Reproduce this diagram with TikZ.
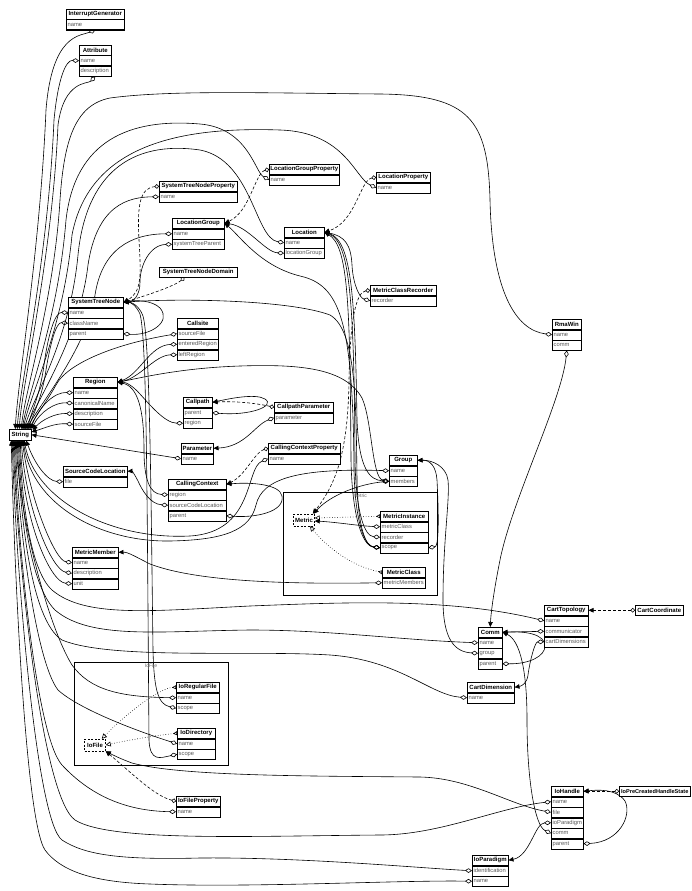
\documentclass[tikz,border=0pt]{standalone}
\usepackage{fontspec}
\setmainfont{Liberation Sans}
\usetikzlibrary{arrows.meta}
\pgfdeclarelayer{bg}
\pgfsetlayers{bg,main}
\newcommand\umlcls[5]{%
  \node[hdr, minimum width=#3, anchor=north west] (#1) at (#2) {#4};
  \xdef\umlprev{#1}%
  \foreach \k/\l in {#5}{%
    \node[rowbox, minimum width=#3, anchor=north west] (#1-\k) at (\umlprev.south west) {};
    \node[rowtxt] (#1-\k-t) at ([xshift=1.5pt]#1-\k.west) {\l};
    \xdef\umlprev{#1-\k}%
  }%
  \draw[boxline] (#1.north west) rectangle (\umlprev.south east);
}
\newcommand\umlhdr[4]{%
  \node[hdr, minimum width=#3, anchor=north west] (#1) at (#2) {#4};
  \draw[boxline] (#1.north west) rectangle (#1.south east);
}
\begin{document}
\begin{tikzpicture}[x=1pt,y=-1pt,
  hdr/.style={draw=black, line width=0.5pt, inner sep=0pt, minimum height=10pt, font=\fontsize{6}{7}\selectfont\bfseries, fill=white},
  rowbox/.style={draw=black, line width=0.5pt, inner sep=0pt, minimum height=10pt, fill=white},
  rowtxt/.style={inner sep=0pt, anchor=west, font=\fontsize{5.8}{6}\selectfont, text=black!65},
  boxline/.style={line width=0.9pt},
  conn/.style={line width=0.6pt},
  agg/.style={conn, {Diamond[open,length=7pt,width=4.6pt]}-{Triangle[length=5pt,width=4.5pt]}},
  dep/.style={conn, dash pattern=on 3pt off 2pt, {Circle[open,length=4.5pt]}-{Triangle[length=5pt,width=4.5pt]}},
  inh/.style={conn, dotted, {Triangle[open,reversed,length=4pt,width=4pt]}-{Triangle[open,length=5pt,width=5pt]}},
  frame/.style={line width=0.6pt},
  framelbl/.style={inner sep=0pt, anchor=north, font=\fontsize{5}{6}\selectfont, text=black!60},
  absbox/.style={draw=black, dash pattern=on 2pt off 1.5pt, line width=0.5pt, inner sep=1pt, minimum width=21pt, minimum height=12pt, font=\fontsize{6}{7}\selectfont\bfseries},
]
\useasboundingbox (0,0) rectangle (691,891);

% frames
\draw[frame] (283,492) rectangle (437,595);
\node[framelbl] (metframe) at (360,494) {Metric};
\draw[frame] (74,662) rectangle (228,765);
\node[framelbl] (ioframe) at (151,664) {IoFile};

% classes
\umlcls{ig}{66,9}{58}{InterruptGenerator}{name/name}
\umlcls{attr}{79,45}{32}{Attribute}{name/name,desc/description}
\umlcls{lgp}{269,164}{70}{LocationGroupProperty}{name/name}
\umlcls{lp}{376,172}{54}{LocationProperty}{name/name}
\umlcls{stnp}{159,181}{78}{SystemTreeNodeProperty}{name/name}
\umlcls{lg}{172,218}{52}{LocationGroup}{name/name,stp/systemTreeParent}
\umlcls{loc}{284,227}{40}{Location}{name/name,lg/locationGroup}
\umlhdr{stnd}{159,267}{78}{SystemTreeNodeDomain}
\umlcls{stn}{68,297}{55}{SystemTreeNode}{name/name,class/className,parent/parent}
\umlcls{cs}{177,318}{41}{Callsite}{file/sourceFile,ent/enteredRegion,left/leftRegion}
\umlcls{reg}{73,377}{44}{Region}{name/name,canon/canonicalName,desc/description,file/sourceFile}
\node[hdr, minimum width=22, minimum height=11, anchor=north west] (str) at (9,429) {String};
\draw[boxline] (str.north west) rectangle (str.south east);
\umlcls{cp}{183,397}{29}{Callpath}{parent/parent,region/region}
\umlcls{cpp}{274,402}{59}{CallpathParameter}{param/parameter}
\umlcls{par}{181,443}{32}{Parameter}{name/name}
\umlcls{mcr}{370,285}{66}{MetricClassRecorder}{rec/recorder}
\umlcls{ccp}{268,443}{72}{CallingContextProperty}{name/name}
\umlcls{grp}{389,455}{28}{Group}{name/name,mem/members}
\umlcls{cc}{168,479}{58}{CallingContext}{region/region,scl/sourceCodeLocation,parent/parent}
\umlcls{scl}{63,466}{64}{SourceCodeLocation}{file/file}
\umlcls{mi}{380,511}{48}{MetricInstance}{mc/metricClass,rec/recorder,scope/scope}
\umlcls{mc}{382,567}{43}{MetricClass}{mm/metricMembers}
\umlcls{mm}{72,547}{46}{MetricMember}{name/name,desc/description,unit/unit}
\umlcls{ct}{544,605}{44}{CartTopology}{name/name,comm/communicator,cd/cartDimensions}
\umlcls{comm}{478,627}{24}{Comm}{name/name,group/group,parent/parent}
\umlcls{cd}{467,682}{47}{CartDimension}{name/name}
\umlhdr{ccoord}{635,605}{48}{CartCoordinate}
\umlcls{rw}{552,319}{29}{RmaWin}{name/name,comm/comm}
\umlcls{irf}{176,682}{43}{IoRegularFile}{name/name,scope/scope}
\umlcls{idir}{177,728}{38}{IoDirectory}{name/name,scope/scope}
\umlcls{ifp}{176,796}{44}{IoFileProperty}{name/name}
\umlcls{ioh}{551,786}{32}{IoHandle}{name/name,file/file,iop/ioParadigm,comm/comm,parent/parent}
\node[hdr, minimum width=71, anchor=north west, font=\fontsize{5.6}{7}\selectfont\bfseries] (ipchs) at (619,786) {IoPreCreatedHandleState};
\draw[boxline] (ipchs.north west) rectangle (ipchs.south east);
\umlcls{iop}{472,855}{36}{IoParadigm}{ident/identification,name/name}
\node[absbox] (met) at (304,520) {Metric};
\node[absbox] (iofile) at (95,745) {IoFile};

\begin{pgfonlayer}{bg}
\fill[white] (0,0) rectangle (691,891);
% ---- to String (from above)
\draw[agg] (ig-name.south) .. controls (80,36) and (52,34) .. (46,110) .. controls (40,250) and (18,380) .. ([xshift=-5pt]str.north);
\draw[agg] (attr-name.west) .. controls (66,60) and (58,78) .. (54,120) .. controls (48,260) and (20,385) .. ([xshift=-3pt]str.north);
\draw[agg] (attr-desc.south) .. controls (88,84) and (64,80) .. (58,125) .. controls (52,260) and (22,385) .. ([xshift=-1pt]str.north);
\draw[agg] (rw-name.west) .. controls (515,330) and (492,290) .. (490,200) .. controls (488,120) and (470,95) .. (380,94) .. controls (260,93) and (170,90) .. (110,98) .. controls (75,105) and (64,140) .. (60,200) .. controls (54,300) and (25,390) .. ([xshift=1pt]str.north);
\draw[agg] (lgp-name.west) .. controls (255,172) and (248,128) .. (200,124) .. controls (130,118) and (75,140) .. (66,220) .. controls (58,320) and (28,392) .. ([xshift=2pt]str.north);
\draw[agg] (lp-name.west) .. controls (355,178) and (345,132) .. (280,130) .. controls (190,127) and (90,140) .. (72,235) .. controls (63,330) and (30,395) .. ([xshift=3pt]str.north);
\draw[agg] (loc-name.west) .. controls (255,238) and (252,160) .. (200,150) .. controls (130,140) and (86,175) .. (78,255) .. controls (70,340) and (33,398) .. ([xshift=4pt]str.north);
\draw[agg] (stnp-name.west) .. controls (128,197) and (97,205) .. (88,265) .. controls (80,335) and (38,400) .. ([xshift=5pt]str.north);
\draw[agg] (lg-name.west) .. controls (130,234) and (102,250) .. (95,295) .. controls (88,345) and (42,402) .. ([xshift=6pt]str.north);
\draw[agg] (stn-name.west) .. controls (55,312) and (48,335) .. (44,365) .. controls (40,395) and (32,410) .. ([xshift=7pt]str.north);
\draw[agg] (stn-class.west) .. controls (56,322) and (50,345) .. (46,370) .. controls (42,398) and (34,412) .. ([xshift=8pt]str.north);
\draw[agg] (cs-file.west) .. controls (120,343) and (68,362) .. (56,385) .. controls (46,403) and (36,415) .. ([xshift=9pt]str.north);
\draw[agg] (reg-name.west) .. controls (55,392) and (40,405) .. ([xshift=-1pt]str.north east);
\draw[agg] (reg-canon.west) .. controls (55,402) and (40,412) .. (str.north east);
\draw[agg] (reg-desc.west) .. controls (55,413) and (42,420) .. ([xshift=1pt,yshift=-1pt]str.north east);
\draw[agg] (reg-file.west) .. controls (55,423) and (45,428) .. ([yshift=-3pt]str.north east);
\draw[agg] (par-name.west) -- (str.east);
% ---- to String (from below)
\draw[agg] (scl-file.west) .. controls (48,481) and (35,465) .. ([xshift=6pt]str.south);
\draw[agg] (ccp-name.west) .. controls (245,468) and (255,532) .. (190,536) .. controls (110,540) and (35,500) .. ([xshift=4pt]str.south);
\draw[agg] (grp-name.west) .. controls (300,468) and (262,478) .. (256,505) .. controls (250,530) and (225,540) .. (170,541) .. controls (100,542) and (32,505) .. ([xshift=3pt]str.south);
\draw[agg] (mm-name.west) .. controls (55,560) and (30,500) .. ([xshift=2pt]str.south);
\draw[agg] (mm-desc.west) .. controls (52,570) and (26,510) .. ([xshift=1pt]str.south);
\draw[agg] (mm-unit.west) .. controls (50,582) and (23,520) .. (str.south);
\draw[agg] (ct-name.west) .. controls (450,598) and (350,602) .. (250,606) .. controls (150,611) and (85,618) .. (52,590) .. controls (30,570) and (22,500) .. ([xshift=-1pt]str.south);
\draw[agg] (comm-name.west) .. controls (400,640) and (330,630) .. (250,630) .. controls (160,631) and (90,640) .. (55,610) .. controls (30,585) and (21,505) .. ([xshift=-2pt]str.south);
\draw[agg] (cd-name.west) .. controls (430,695) and (400,660) .. (330,655) .. controls (250,650) and (110,660) .. (62,640) .. controls (30,620) and (20,510) .. ([xshift=-3pt]str.south);
\draw[agg] (irf-name.west) .. controls (120,697) and (90,690) .. (72,665) .. controls (50,630) and (19,520) .. ([xshift=-4pt]str.south);
\draw[agg] (idir-name.west) .. controls (140,732) and (80,710) .. (58,690) .. controls (35,660) and (18,520) .. ([xshift=-5pt]str.south);
\draw[agg] (ifp-name.west) .. controls (125,811) and (90,795) .. (62,765) .. controls (35,735) and (17,530) .. ([xshift=-6pt]str.south);
\draw[agg] (ioh-name.west) .. controls (500,807) and (440,835) .. (380,835) .. controls (250,836) and (110,842) .. (75,820) .. controls (40,795) and (16,540) .. ([xshift=-7pt]str.south);
\draw[agg] (iop-ident.west) .. controls (420,868) and (300,857) .. (200,858) .. controls (120,860) and (85,855) .. (62,840) .. controls (35,820) and (15,550) .. ([xshift=-8pt]str.south);
\draw[agg] (iop-name.west) .. controls (400,880) and (250,888) .. (150,884) .. controls (90,882) and (60,870) .. (45,850) .. controls (25,820) and (14,560) .. ([xshift=-9pt]str.south);
% ---- SystemTreeNode
\draw[agg] (stn-parent.east) .. controls (150,336) and (172,322) .. (160,308) .. controls (152,300) and (135,300) .. (stn.east);
\draw[agg] (lg-stp.west) .. controls (150,245) and (140,265) .. (140,282) .. controls (140,296) and (133,302) .. (stn.east);
\draw[dep] (stnp.west) .. controls (140,188) and (137,205) .. (139,240) .. controls (141,275) and (142,292) .. (stn.east);
\draw[dep] ([xshift=-14pt]stnd.south) .. controls (175,286) and (145,296) .. (stn.east);
\draw[agg] (irf-scope.west) .. controls (158,704) and (154,690) .. (153,650) .. controls (151,500) and (150,340) .. (143,316) .. controls (139,305) and (131,302) .. (stn.east);
\draw[agg] (idir-scope.west) .. controls (160,758) and (150,762) .. (149,740) .. controls (147,500) and (147,340) .. (140,314) .. controls (136,305) and (130,302) .. (stn.east);
\draw[agg] (mi-scope.west) .. controls (366,546) and (358,530) .. (357,480) .. controls (356,400) and (356,330) .. (330,315) .. controls (290,300) and (180,298) .. (stn.east);
% ---- Location / LocationGroup
\draw[agg] (mi-scope.west) .. controls (364,546) and (355,520) .. (354,470) .. controls (353,320) and (340,285) .. (300,276) .. controls (260,266) and (240,236) .. (lg.east);
\draw[agg] (mi-scope.west) .. controls (362,546) and (352,515) .. (351,460) .. controls (350,300) and (348,246) .. (loc.east);
\draw[agg] (mi-rec.west) .. controls (365,536) and (356,515) .. (355,460) .. controls (354,300) and (350,242) .. (loc.east);
\draw[agg] (grp-mem.west) .. controls (370,480) and (359,470) .. (357,420) .. controls (355,300) and (352,240) .. (loc.east);
\draw[agg] (mcr-rec.west) .. controls (360,298) and (353,285) .. (352,265) .. controls (351,245) and (345,236) .. (loc.east);
\draw[agg] (loc-lg.west) .. controls (265,252) and (248,226) .. (lg.east);
\draw[dep] (lgp.west) .. controls (255,173) and (250,212) .. (lg.east);
\draw[dep] (lp.west) .. controls (360,180) and (356,222) .. (loc.east);
% ---- Metric
\draw[dep] (mcr.west) .. controls (356,292) and (350,320) .. (349,380) .. controls (348,455) and (335,485) .. ([xshift=-2pt]met.north east);
\draw[agg] (grp-mem.west) .. controls (360,484) and (330,495) .. ([xshift=-1pt]met.north east);
\draw[agg] (mi-mc.west) .. controls (360,526) and (335,522) .. ([yshift=-1pt]met.east);
\draw[inh] (mi.west) -- ([yshift=2pt]met.east);
\draw[inh] (mc.west) .. controls (350,566) and (325,545) .. ([xshift=6pt]met.south);
% ---- Region, Group, MetricMember
\draw[agg] (grp-mem.west) .. controls (372,478) and (372,420) .. (362,398) .. controls (345,368) and (300,364) .. (240,366) .. controls (180,368) and (140,378) .. (reg.east);
\draw[agg] (mi-scope.east) .. controls (440,546) and (438,500) .. (437,480) .. controls (436,466) and (430,460) .. (grp.east);
\draw[agg] (comm-group.west) .. controls (455,652) and (443,640) .. (443,600) .. controls (443,540) and (450,500) .. (448,480) .. controls (446,466) and (432,460) .. (grp.east);
\draw[agg] (mc-mm.west) .. controls (300,584) and (200,583) .. (150,564) .. controls (136,557) and (128,552) .. (mm.east);
\draw[agg] (cs-ent.west) .. controls (150,345) and (140,374) .. (reg.east);
\draw[agg] (cs-left.west) .. controls (155,355) and (140,378) .. (reg.east);
\draw[agg] (cp-region.west) .. controls (165,423) and (150,405) .. (140,394) .. controls (133,386) and (126,382) .. (reg.east);
\draw[agg] (cc-region.west) .. controls (150,494) and (144,480) .. (144,450) .. controls (144,410) and (138,386) .. (reg.east);
\draw[agg] (cc-scl.west) .. controls (150,504) and (142,490) .. (138,481) .. controls (135,475) and (132,471) .. (scl.east);
\draw[agg] (cc-parent.east) .. controls (255,518) and (285,512) .. (282,496) .. controls (280,484) and (250,482) .. (cc.east);
\draw[dep] (ccp.west) .. controls (255,452) and (245,476) .. (cc.east);
\draw[agg] (cp-parent.east) .. controls (250,416) and (276,406) .. (265,399) .. controls (255,393) and (228,399) .. (cp.east);
\draw[dep] (cpp.west) .. controls (255,403) and (235,401) .. (cp.east);
\draw[agg] (cpp-param.west) .. controls (255,425) and (245,447) .. (par.east);
% ---- Comm etc.
\draw[agg] (rw-comm.south) .. controls (562,400) and (512,500) .. (500,560) .. controls (494,590) and (491,612) .. (comm.north);
\draw[agg] (ioh-comm.west) .. controls (535,826) and (527,780) .. (527,720) .. controls (527,670) and (520,640) .. (comm.east);
\draw[agg] (comm-parent.east) .. controls (530,664) and (545,656) .. (545,646) .. controls (545,634) and (525,631) .. (comm.east);
\draw[agg] (ct-comm.west) -- (comm.east);
\draw[agg] (ct-cd.west) .. controls (535,642) and (530,660) .. (528,675) .. controls (527,683) and (522,686) .. (cd.east);
\draw[dep] (ccoord.west) -- (ct.east);
% ---- Io
\draw[agg] (ioh-parent.east) .. controls (620,842) and (632,815) .. (625,801) .. controls (616,788) and (596,790) .. (ioh.east);
\draw[dep] (ipchs.west) -- (ioh.east);
\draw[agg] (ioh-iop.west) .. controls (535,823) and (530,856) .. (iop.east);
\draw[agg] (ioh-file.west) .. controls (510,805) and (470,778) .. (420,777) .. controls (300,776) and (180,776) .. (132,763) .. controls (121,759) and (113,755) .. (iofile.south east);
\draw[dep] (ifp.west) .. controls (155,796) and (135,776) .. (iofile.south east);
\draw[inh] (irf.west) .. controls (160,688) and (128,712) .. ([xshift=-4pt]iofile.north east);
\draw[inh] (idir.west) .. controls (150,736) and (120,742) .. (iofile.east);
\end{pgfonlayer}
\end{tikzpicture}
\end{document}
